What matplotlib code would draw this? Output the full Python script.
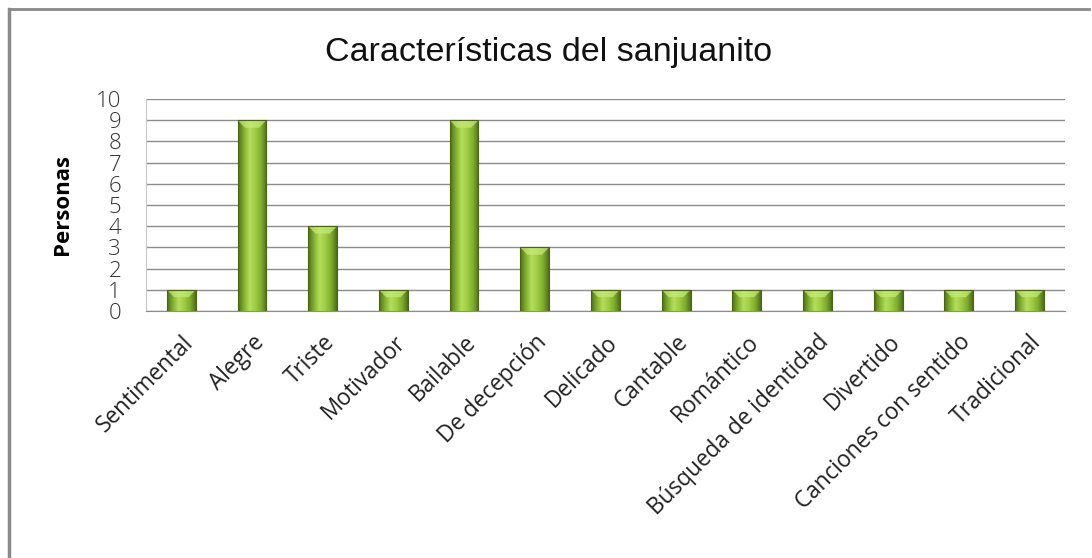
import matplotlib
matplotlib.use("Agg")
import matplotlib.pyplot as plt
import numpy as np
from matplotlib.colors import LinearSegmentedColormap
from matplotlib.lines import Line2D

categories = ["Sentimental", "Alegre", "Triste", "Motivador", "Bailable", "De decepción",
              "Delicado", "Cantable", "Romántico", "Búsqueda de identidad", "Divertido",
              "Canciones con sentido", "Tradicional"]
values = [1, 9, 4, 1, 9, 3, 1, 1, 1, 1, 1, 1, 1]
yticks = list(range(0, 11))

plt.rcParams['font.family'] = ['Open Sans', 'DejaVu Sans']

fig = plt.figure(figsize=(10.92, 5.58), dpi=100)
ax = fig.add_axes([0.1337, 0.4427, 0.975 - 0.1337, 0.8226 - 0.4427])

x = np.arange(len(categories))
width = 0.41
bars = ax.bar(x, values, width=width, color="#8fbf3a", edgecolor="none", zorder=3)

cmap = LinearSegmentedColormap.from_list("g", ["#4f6d18", "#7fae2e", "#b4de5a", "#9fcc45", "#7fae2e", "#4f6d18"])
grad = np.linspace(0, 1, 256).reshape(1, -1)
for b in bars:
    x0, y0 = b.get_x(), b.get_y()
    w, h = b.get_width(), b.get_height()
    im = ax.imshow(grad, cmap=cmap, aspect="auto", extent=[x0, x0 + w, y0, y0 + h], zorder=3)
    im.set_clip_path(b)
    tri_h = min(0.35, h * 0.4)
    ax.fill([x0, x0 + w, x0 + w * 0.75, x0 + w * 0.25], [y0 + h, y0 + h, y0 + h - tri_h, y0 + h - tri_h],
            color="#c8ec78", alpha=0.7, zorder=4, lw=0)
    ax.plot([x0, x0, x0 + w, x0 + w], [y0, y0 + h, y0 + h, y0], color="#4a6414", lw=0.8, zorder=5)

ax.set_xlim(-0.5, len(categories) - 0.5)
ax.set_ylim(0, 10)
ax.set_yticks(yticks)
ax.set_yticklabels([str(t) for t in yticks], fontsize=16, color="#333333", fontweight="light")
ax.tick_params(axis="y", length=0, pad=18)
ax.set_xticks(x)
ax.set_xticklabels(categories, rotation=45, ha="right", rotation_mode="anchor", fontsize=16.3, color="#222222")
ax.tick_params(axis="x", length=0, pad=14)
ax.grid(axis="y", color="#8c8c8c", lw=1, zorder=0)
for s in ["top", "right"]:
    ax.spines[s].set_visible(False)
ax.spines["left"].set_color("#c8c8c8")
ax.spines["bottom"].set_color("#8c8c8c")
ax.set_ylabel("Personas", fontsize=16, fontweight="bold", labelpad=16)

fig.text(0.502, 0.906, "Características del sanjuanito", ha="center", va="center", fontsize=24.5,
         color="#111111", family=["Liberation Sans", "DejaVu Sans"])

fig.add_artist(Line2D([0.008, 0.997], [0.983, 0.983], transform=fig.transFigure, color="#8a8a8a", lw=2))
fig.add_artist(Line2D([0.0085, 0.0085], [0.0, 0.983], transform=fig.transFigure, color="#8a8a8a", lw=2.5))

fig.savefig("out.png", dpi=100)
